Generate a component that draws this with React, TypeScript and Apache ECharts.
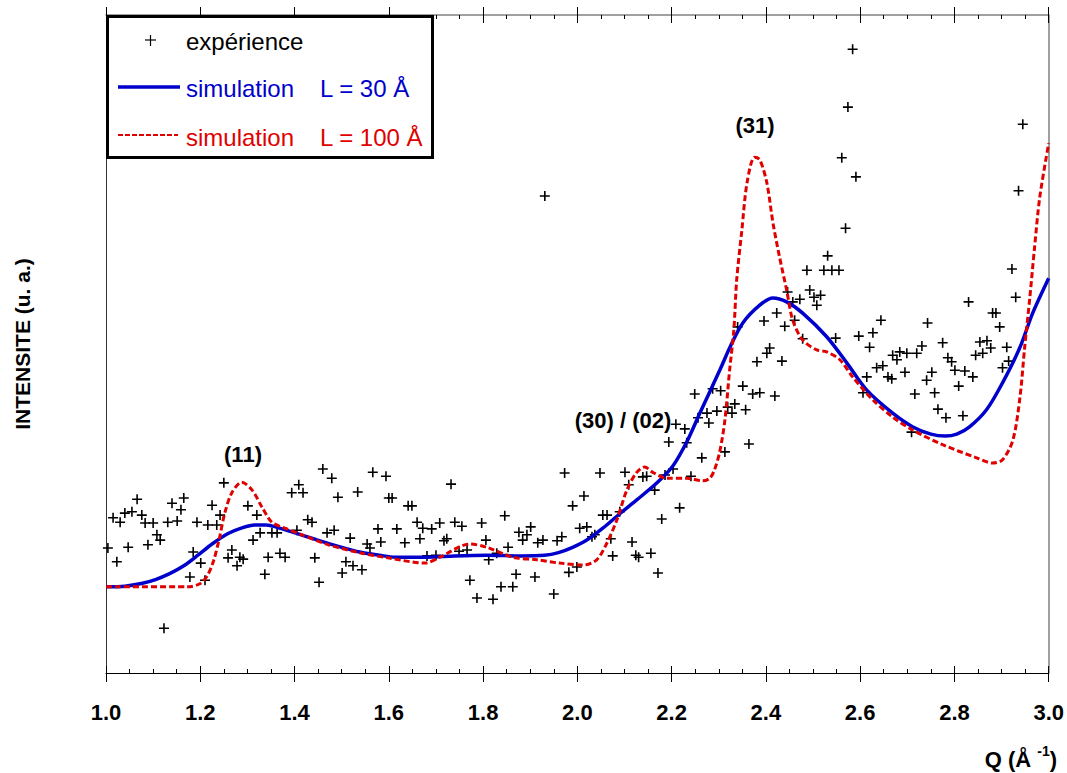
import React, { useEffect, useRef } from "react";
import * as echarts from "echarts";

// Q (Å^-1), intensity (arbitrary units, 0..100 of the frame)
const experience: [number, number][] = [
  [1.004, 19.0], [1.015, 23.6], [1.023, 16.9], [1.03, 22.9], [1.04, 24.3], [1.047, 19.1], [1.055, 24.5], [1.066, 26.4],
  [1.076, 24.0], [1.083, 22.8], [1.089, 19.5], [1.1, 22.8], [1.108, 21.0], [1.115, 20.2], [1.123, 6.8], [1.131, 22.9],
  [1.14, 25.8], [1.151, 23.1], [1.159, 24.8], [1.165, 26.6], [1.178, 14.6], [1.185, 18.4], [1.193, 22.9], [1.201, 16.7],
  [1.21, 14.1], [1.216, 22.5], [1.225, 25.5], [1.235, 22.5], [1.242, 24.0], [1.25, 28.9], [1.259, 17.5], [1.267, 18.7],
  [1.278, 16.3], [1.284, 17.6], [1.291, 17.3], [1.301, 25.4], [1.312, 20.2], [1.32, 24.0], [1.327, 21.3], [1.337, 15.0],
  [1.344, 17.6], [1.352, 21.3], [1.363, 21.3], [1.369, 18.2], [1.38, 17.6], [1.394, 27.4], [1.405, 21.7], [1.409, 28.6],
  [1.418, 27.4], [1.428, 23.3], [1.437, 22.9], [1.443, 17.5], [1.452, 13.8], [1.46, 31.0], [1.469, 21.3], [1.479, 29.6],
  [1.484, 21.7], [1.492, 26.7], [1.501, 15.2], [1.509, 16.9], [1.518, 20.5], [1.524, 16.3], [1.534, 27.5], [1.543, 15.7],
  [1.554, 19.6], [1.56, 19.0], [1.566, 30.5], [1.577, 21.9], [1.583, 19.9], [1.594, 29.9], [1.6, 26.6], [1.607, 26.6],
  [1.617, 21.9], [1.634, 19.8], [1.641, 25.4], [1.649, 25.4], [1.66, 22.9], [1.666, 20.4], [1.672, 22.0], [1.681, 17.8],
  [1.691, 21.9], [1.7, 17.9], [1.708, 22.8], [1.717, 20.1], [1.723, 20.4], [1.732, 28.7], [1.74, 22.9], [1.749, 18.5],
  [1.755, 22.3], [1.766, 18.7], [1.772, 14.1], [1.787, 11.4], [1.797, 22.8], [1.806, 20.2], [1.812, 17.2], [1.821, 11.2],
  [1.829, 18.2], [1.838, 13.1], [1.846, 23.9], [1.853, 19.1], [1.863, 13.1], [1.87, 15.0], [1.876, 21.4], [1.884, 20.2],
  [1.893, 21.0], [1.901, 22.2], [1.91, 14.6], [1.916, 19.8], [1.927, 20.2], [1.931, 72.5], [1.95, 12.0], [1.957, 20.1],
  [1.967, 20.7], [1.973, 30.4], [1.982, 15.3], [1.99, 25.4], [1.999, 16.1], [2.005, 22.0], [2.014, 26.9], [2.02, 22.2],
  [2.031, 20.7], [2.037, 21.0], [2.048, 30.4], [2.054, 24.0], [2.063, 24.0], [2.071, 20.4], [2.075, 17.8], [2.09, 24.5],
  [2.101, 30.5], [2.109, 28.6], [2.116, 19.9], [2.124, 17.9], [2.13, 17.6], [2.139, 29.8], [2.147, 29.9], [2.156, 18.2],
  [2.164, 27.8], [2.171, 15.2], [2.179, 23.4], [2.186, 30.1], [2.194, 35.1], [2.203, 31.0], [2.209, 37.8], [2.217, 25.1],
  [2.228, 37.1], [2.232, 35.0], [2.241, 29.9], [2.249, 42.4], [2.256, 38.8], [2.264, 32.7], [2.275, 39.5], [2.279, 38.0],
  [2.287, 43.2], [2.296, 39.8], [2.304, 42.9], [2.313, 33.6], [2.319, 40.4], [2.328, 39.5], [2.334, 40.9], [2.34, 52.6],
  [2.351, 43.6], [2.357, 40.0], [2.364, 34.8], [2.372, 42.4], [2.381, 47.3], [2.387, 42.6], [2.396, 53.5], [2.402, 48.6],
  [2.408, 49.4], [2.419, 42.1], [2.423, 54.7], [2.434, 47.4], [2.44, 52.7], [2.446, 57.9], [2.457, 56.4], [2.461, 53.6],
  [2.472, 56.8], [2.478, 50.8], [2.487, 61.2], [2.493, 58.2], [2.502, 57.1], [2.508, 55.9], [2.516, 57.4], [2.523, 61.2],
  [2.531, 63.4], [2.54, 61.2], [2.548, 50.9], [2.555, 61.2], [2.561, 78.3], [2.569, 67.6], [2.574, 86.0], [2.584, 94.8],
  [2.591, 75.4], [2.597, 51.2], [2.606, 42.6], [2.614, 45.0], [2.62, 49.5], [2.627, 51.7], [2.635, 46.4], [2.644, 53.6],
  [2.648, 46.7], [2.659, 45.0], [2.667, 44.7], [2.669, 48.3], [2.678, 47.6], [2.684, 48.8], [2.695, 45.7], [2.699, 48.6],
  [2.709, 36.6], [2.716, 42.4], [2.72, 48.6], [2.731, 49.7], [2.741, 44.5], [2.743, 53.2], [2.752, 45.7], [2.758, 42.6],
  [2.765, 40.1], [2.775, 50.2], [2.782, 38.8], [2.786, 47.9], [2.794, 47.3], [2.801, 46.0], [2.809, 43.6], [2.818, 39.1],
  [2.822, 45.9], [2.83, 56.4], [2.839, 45.0], [2.845, 48.3], [2.854, 50.3], [2.86, 48.6], [2.869, 50.5], [2.877, 49.4],
  [2.881, 54.7], [2.888, 54.7], [2.896, 52.6], [2.902, 46.4], [2.911, 49.5], [2.915, 47.4], [2.922, 61.4], [2.93, 57.1],
  [2.936, 73.3], [2.945, 83.4],
];

const simulationL30: [number, number][] = [
  [1.0, 13.1], [1.04, 13.2], [1.075, 13.6], [1.105, 14.2], [1.135, 15.1], [1.165, 16.3], [1.195, 17.9], [1.225, 19.6],
  [1.259, 21.2], [1.29, 22.1], [1.315, 22.5], [1.34, 22.5], [1.365, 22.1], [1.401, 21.3], [1.44, 20.4], [1.471, 19.7],
  [1.51, 18.9], [1.543, 18.3], [1.58, 17.9], [1.613, 17.6], [1.677, 17.6], [1.74, 17.8], [1.808, 17.9], [1.88, 17.8],
  [1.93, 17.9], [1.96, 18.3], [1.99, 19.1], [2.02, 20.2], [2.054, 22.0], [2.09, 24.2], [2.126, 26.3], [2.169, 28.9],
  [2.203, 31.5], [2.232, 35.1], [2.26, 39.5], [2.302, 46.0], [2.325, 49.7], [2.351, 53.2], [2.387, 55.9], [2.415, 57.0],
  [2.444, 56.4], [2.478, 54.7], [2.529, 51.1], [2.572, 47.1], [2.614, 43.0], [2.669, 39.5], [2.712, 37.4], [2.75, 36.3],
  [2.78, 36.0], [2.805, 36.3], [2.832, 37.4], [2.868, 40.0], [2.902, 44.1], [2.939, 49.5], [2.966, 54.7], [3.0, 60.0],
];

const simulationL100: [number, number][] = [
  [1.0, 13.1], [1.174, 13.1], [1.2, 13.6], [1.215, 14.8], [1.228, 17.0], [1.24, 20.3], [1.252, 24.3], [1.267, 27.4],
  [1.288, 29.0], [1.31, 27.8], [1.331, 25.2], [1.352, 22.9], [1.38, 22.0], [1.416, 21.0], [1.471, 19.5], [1.543, 18.2],
  [1.598, 17.5], [1.677, 16.7], [1.708, 17.6], [1.772, 19.6], [1.808, 19.1], [1.863, 17.6], [1.914, 17.2], [1.963, 16.7],
  [2.012, 16.4], [2.041, 17.2], [2.063, 19.8], [2.084, 23.3], [2.105, 27.8], [2.126, 30.5], [2.143, 31.3], [2.16, 30.5],
  [2.19, 29.6], [2.232, 29.6], [2.266, 29.2], [2.281, 29.6], [2.291, 30.9], [2.302, 33.6], [2.313, 38.4], [2.323, 46.0],
  [2.332, 52.1], [2.338, 59.7], [2.349, 67.3], [2.36, 74.5], [2.376, 78.4], [2.387, 78.0], [2.402, 74.5], [2.415, 68.4],
  [2.429, 63.2], [2.444, 58.2], [2.457, 53.6], [2.478, 50.6], [2.508, 49.1], [2.529, 48.8], [2.557, 47.6], [2.584, 45.0],
  [2.627, 41.5], [2.669, 38.9], [2.712, 36.9], [2.775, 34.7], [2.847, 32.7], [2.881, 31.9], [2.902, 32.4], [2.924, 35.4],
  [2.939, 41.9], [2.949, 49.5], [2.96, 57.1], [2.97, 64.7], [2.981, 72.3], [3.0, 80.5],
];

const seriesNames = ["expérience", "simulation  L = 30 Å", "simulation  L = 100 Å"];
const legendWord = "simulation";
const legendParams = ["L = 30 Å", "L = 100 Å"];
const peakLabels = ["(11)", "(30) / (02)", "(31)"];
const yTitle = "INTENSITE (u. a.)";
const xTitleMain = "Q (Å ";
const xTitleExp = "-1";

const FONT = 'Arial, "Liberation Sans", Helvetica, sans-serif';
const BLUE = "#0000cc";
const RED = "#e00000";

export default function App() {
  const ref = useRef<HTMLDivElement>(null);
  useEffect(() => {
    if (!ref.current) return;
    const chart = echarts.init(ref.current, undefined, { renderer: "svg" });
    const xBase = { type: "value", min: 1, max: 3, interval: 0.2, splitLine: { show: false } };
    const option: any = {
      animation: false,
      backgroundColor: "#fff",
      grid: { left: 106, right: 18, top: 15, bottom: 100 },
      xAxis: [
        {
          ...xBase,
          position: "bottom",
          axisLine: { show: true, lineStyle: { color: "#000", width: 1 } },
          axisTick: { show: true, inside: false, length: 9, lineStyle: { color: "#000" } },
          axisLabel: {
            show: true, margin: 28, fontSize: 22, fontWeight: "bold", color: "#000", fontFamily: FONT,
            formatter: (v: number) => v.toFixed(1),
          },
        },
        {
          ...xBase,
          position: "bottom",
          axisLine: { show: false },
          axisTick: { show: true, inside: true, length: 7, lineStyle: { color: "#000" } },
          minorTick: { show: true, splitNumber: 4, length: 4, lineStyle: { color: "#000" } },
          axisLabel: { show: false },
        },
        {
          ...xBase,
          position: "top",
          axisLine: { show: true, lineStyle: { color: "#808080", width: 1.5 } },
          axisTick: { show: true, inside: false, length: 8, lineStyle: { color: "#000" } },
          axisLabel: { show: false },
        },
        {
          ...xBase,
          position: "top",
          axisLine: { show: false },
          axisTick: { show: true, inside: true, length: 8, lineStyle: { color: "#000" } },
          minorTick: { show: true, splitNumber: 4, length: 4, lineStyle: { color: "#000" } },
          axisLabel: { show: false },
        },
      ],
      yAxis: [
        {
          type: "value", min: 0, max: 100, position: "left",
          axisLine: { show: true, lineStyle: { color: "#333", width: 1 } },
          axisTick: { show: false }, axisLabel: { show: false }, splitLine: { show: false },
        },
        {
          type: "value", min: 0, max: 100, position: "right",
          axisLine: { show: true, lineStyle: { color: "#808080", width: 1.5 } },
          axisTick: { show: false }, axisLabel: { show: false }, splitLine: { show: false },
        },
      ],
      series: [
        {
          name: seriesNames[0],
          type: "scatter",
          data: experience,
          symbol: "path://M0,5L10,5M5,0L5,10",
          symbolSize: 10,
          itemStyle: { color: "transparent", borderColor: "#000", borderWidth: 1.6, opacity: 1 },
          z: 2,
        },
        {
          name: seriesNames[1],
          type: "line",
          data: simulationL30,
          smooth: 0.3,
          showSymbol: false,
          lineStyle: { color: BLUE, width: 3.5 },
          z: 3,
        },
        {
          name: seriesNames[2],
          type: "line",
          data: simulationL100,
          smooth: 0.3,
          showSymbol: false,
          lineStyle: { color: RED, width: 3, type: [6, 3] },
          z: 4,
        },
      ],
      graphic: [
        { type: "rect", z: 100, shape: { x: 107.5, y: 16.5, width: 325, height: 141 }, style: { fill: "#fff", stroke: "#000", lineWidth: 3 } },
        { type: "line", z: 101, shape: { x1: 145, y1: 40, x2: 156, y2: 40 }, style: { stroke: "#000", lineWidth: 1.2 } },
        { type: "line", z: 101, shape: { x1: 150.5, y1: 35, x2: 150.5, y2: 46 }, style: { stroke: "#000", lineWidth: 1.2 } },
        { type: "text", z: 101, x: 186, y: 41, style: { text: seriesNames[0], fill: "#000", font: `24px ${FONT}`, textVerticalAlign: "middle" } },
        { type: "line", z: 101, shape: { x1: 118, y1: 87, x2: 180, y2: 87 }, style: { stroke: BLUE, lineWidth: 3.5 } },
        { type: "text", z: 101, x: 186, y: 88, style: { text: legendWord, fill: BLUE, font: `24px ${FONT}`, textVerticalAlign: "middle" } },
        { type: "text", z: 101, x: 320, y: 88, style: { text: legendParams[0], fill: BLUE, font: `24px ${FONT}`, textVerticalAlign: "middle" } },
        { type: "line", z: 101, shape: { x1: 118, y1: 135, x2: 178, y2: 135 }, style: { stroke: RED, lineWidth: 2, lineDash: [5, 2] } },
        { type: "text", z: 101, x: 186, y: 137, style: { text: legendWord, fill: RED, font: `24px ${FONT}`, textVerticalAlign: "middle" } },
        { type: "text", z: 101, x: 320, y: 137, style: { text: legendParams[1], fill: RED, font: `24px ${FONT}`, textVerticalAlign: "middle" } },
        { type: "text", z: 101, x: 243, y: 454, style: { text: peakLabels[0], fill: "#000", font: `bold 22px ${FONT}`, textAlign: "center", textVerticalAlign: "middle" } },
        { type: "text", z: 101, x: 623, y: 420, style: { text: peakLabels[1], fill: "#000", font: `bold 22px ${FONT}`, textAlign: "center", textVerticalAlign: "middle" } },
        { type: "text", z: 101, x: 755, y: 125, style: { text: peakLabels[2], fill: "#000", font: `bold 22px ${FONT}`, textAlign: "center", textVerticalAlign: "middle" } },
        { type: "text", z: 101, x: 22, y: 344, rotation: Math.PI / 2, style: { text: yTitle, fill: "#000", font: `bold 21px ${FONT}`, textAlign: "center", textVerticalAlign: "middle" } },
        {
          type: "text", z: 101, x: 1057, y: 757,
          style: {
            text: `{a|${xTitleMain}}{s|${xTitleExp}}{a|)}`,
            textAlign: "right", textVerticalAlign: "middle",
            rich: {
              a: { fontSize: 22, fontWeight: "bold", fontFamily: FONT, fill: "#000", color: "#000", verticalAlign: "bottom", lineHeight: 26 },
              s: { fontSize: 14, fontWeight: "bold", fontFamily: FONT, fill: "#000", color: "#000", verticalAlign: "top", lineHeight: 26 },
            },
          },
        },
      ],
    };
    chart.setOption(option);
    return () => chart.dispose();
  }, []);
  return <div ref={ref} style={{ position: "fixed", left: 0, top: 0, width: 1067, height: 773, background: "#fff" }} />;
}
